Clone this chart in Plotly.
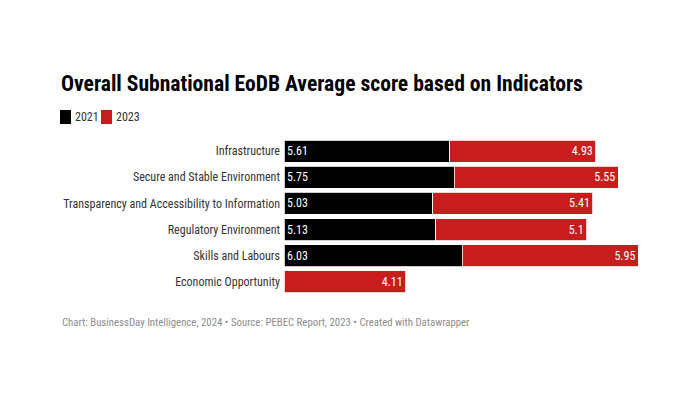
import plotly.graph_objects as go

categories = ["Infrastructure", "Secure and Stable Environment",
              "Transparency and Accessibility to Information",
              "Regulatory Environment", "Skills and Labours", "Economic Opportunity"]
values_2021 = [5.61, 5.75, 5.03, 5.13, 6.03, None]
values_2023 = [4.93, 5.55, 5.41, 5.1, 5.95, 4.11]
series_names = ["2021", "2023"]
colors = ["#000000", "#c71e1d"]

FONT = "Roboto Condensed, Liberation Sans Narrow, Roboto, sans-serif"

def fmt(v):
    return "" if v is None else ("%g" % v)

fig = go.Figure()
fig.add_trace(go.Bar(
    y=categories, x=values_2021, orientation="h", name=series_names[0],
    marker=dict(color=colors[0], line=dict(color="white", width=0.8)),
    text=[fmt(v) for v in values_2021], textposition="inside",
    insidetextanchor="start", textfont=dict(color="white", size=12, family=FONT),
    cliponaxis=False, hoverinfo="skip"))
fig.add_trace(go.Bar(
    y=categories, x=values_2023, orientation="h", name=series_names[1],
    marker=dict(color=colors[1], line=dict(color="white", width=0.8)),
    text=[fmt(v) for v in values_2023], textposition="inside",
    insidetextanchor="end", textfont=dict(color="white", size=12, family=FONT),
    cliponaxis=False, hoverinfo="skip"))

W, H = 700, 400
OFF = 8  # page body margin
ml, mr, mt, mb = 284 - OFF, 700 - 639 + OFF, 138 - OFF, 400 - 295 + OFF

def px_x(x):
    return (x - OFF - ml) / (W - ml - mr)

def px_y(y):
    return (H - mb - (y - OFF)) / (H - mt - mb)

shapes = []
annotations = []
# legend
leg = [(60, 73, series_names[0], colors[0]), (101, 114, series_names[1], colors[1])]
for sx, tx, name, col in leg:
    shapes.append(dict(type="rect", xref="paper", yref="paper",
                       x0=px_x(sx), x1=px_x(sx + 11), y0=px_y(124), y1=px_y(110),
                       fillcolor=col, line=dict(width=0)))
    annotations.append(dict(text=name, xref="paper", yref="paper", x=px_x(tx), y=px_y(117),
                            xanchor="left", yanchor="middle", showarrow=False,
                            font=dict(size=12, color="#333333", family=FONT)))
annotations.append(dict(
    text="Chart: BusinessDay Intelligence, 2024 • Source: PEBEC Report, 2023 • Created with Datawrapper",
    xref="paper", yref="paper", x=px_x(60), y=px_y(322), xanchor="left", yanchor="middle",
    showarrow=False, font=dict(size=10.8, color="#8c8c8c", family=FONT)))

fig.update_layout(
    width=W, height=H, barmode="stack", bargap=0.16, showlegend=False,
    margin=dict(l=ml, r=mr, t=mt, b=mb, autoexpand=False),
    paper_bgcolor="white", plot_bgcolor="white",
    font=dict(family=FONT, color="#333333", size=12),
    title=dict(text="<b>Overall Subnational EoDB Average score based on Indicators</b>",
               x=(61 - OFF) / W, xanchor="left", y=1 - (83 - OFF) / H, yanchor="middle",
               font=dict(size=21.6, color="#000000", family=FONT)),
    xaxis=dict(range=[0, 12], visible=False, fixedrange=True),
    yaxis=dict(autorange="reversed", showgrid=False, zeroline=False, showline=False,
               ticks="", ticklabelstandoff=3, tickfont=dict(size=12, color="#333333")),
    shapes=shapes, annotations=annotations,
    uniformtext=dict(mode=False),
)
fig.write_html("out.html")
